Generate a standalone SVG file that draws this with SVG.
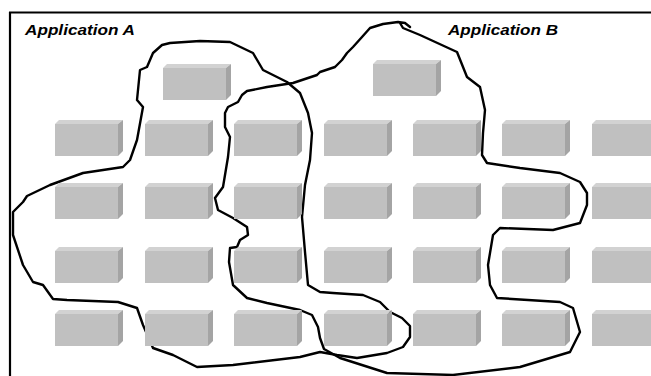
<svg xmlns="http://www.w3.org/2000/svg" width="651" height="376" viewBox="0 0 651 376">
<style>
.frame{stroke:#000;stroke-width:2.2;fill:none}
.loop{stroke:#000;stroke-width:2.4;fill:none;stroke-linejoin:round;stroke-linecap:round}
.front{fill:#c0c0c0}
.top{fill:#d2d2d2}
.side{fill:#a4a4a4}
.lbl{font-family:"Liberation Sans",Arial,sans-serif;font-weight:bold;font-style:italic;font-size:14px;fill:#000}
</style>
<defs>
<g id="box">
<polygon class="top" points="0,4 4,0 68,0 63,4"/>
<polygon class="side" points="63,4 68,0 68,31 63,36"/>
<rect class="front" x="0" y="4" width="63" height="32"/>
</g>
</defs>
<rect width="651" height="376" fill="#fff"/>
<g id="frame">
<line class="frame" x1="9" y1="12.5" x2="651" y2="12.5"/>
<line class="frame" x1="10" y1="12" x2="10" y2="376"/>
</g>
<g id="connectors">
<path id="loopA" class="loop" d="M170,43 L200,41 L230,42 L253,53 L263,70 L287,82 L300,93 L308,113 L312,133 L310,160 L305,185 L302,217 L305,252 L308,285 L320,292 L333,293 L363,295 L380,302 L390,312 L402,318 L410,326 L410,337 L403,347 L387,353 L357,358 L337,355 L320,352 L300,357 L233,365 L197,367 L173,355 L153,348 L143,325 L137,308 L118,302 L67,300 L53,299 L43,285 L33,282 L23,265 L13,235 L13,212 L23,202 L27,196 L50,185 L83,173 L123,167 L130,160 L137,140 L143,107 L137,100 L140,70 L147,67 L153,53 L162,45 Z"/>
<path id="loopB" class="loop" d="M410,27 L405,23 L398,22 L383,24 L370,28 L362,37 L353,47 L347,53 L342,60 L335,67 L320,72 L317,75 L293,83 L267,87 L247,91 L242,95 L238,102 L228,107 L225,113 L225,127 L230,137 L228,157 L223,187 L215,198 L218,210 L233,218 L247,227 L248,235 L240,240 L237,247 L230,248 L229,262 L233,285 L247,298 L267,303 L300,310 L312,315 L318,327 L320,338 L324,349 L340,358 L387,373 L453,375 L520,367 L570,352 L580,332 L573,308 L560,302 L497,298 L490,285 L488,265 L493,235 L500,228 L553,230 L580,223 L587,205 L587,193 L580,182 L560,173 L520,168 L487,163 L482,155 L483,133 L485,110 L480,87 L467,77 L457,52 L420,35 L403,28 L400,23"/>
</g>
<g id="label-a"><text class="lbl" x="25" y="35" textLength="110" lengthAdjust="spacingAndGlyphs">Application A</text></g>
<g id="label-b"><text class="lbl" x="448" y="35" textLength="110" lengthAdjust="spacingAndGlyphs">Application B</text></g>
<g id="app-a"><use href="#box" x="163" y="64"/></g>
<g id="app-b"><use href="#box" x="373" y="60"/></g>
<g id="r1c1"><use href="#box" x="55" y="120"/></g>
<g id="r1c2"><use href="#box" x="145" y="120"/></g>
<g id="r1c3"><use href="#box" x="234" y="120"/></g>
<g id="r1c4"><use href="#box" x="324" y="120"/></g>
<g id="r1c5"><use href="#box" x="413" y="120"/></g>
<g id="r1c6"><use href="#box" x="502" y="120"/></g>
<g id="r1c7"><use href="#box" x="592" y="120"/></g>
<g id="r2c1"><use href="#box" x="55" y="183"/></g>
<g id="r2c2"><use href="#box" x="145" y="183"/></g>
<g id="r2c3"><use href="#box" x="234" y="183"/></g>
<g id="r2c4"><use href="#box" x="324" y="183"/></g>
<g id="r2c5"><use href="#box" x="413" y="183"/></g>
<g id="r2c6"><use href="#box" x="502" y="183"/></g>
<g id="r2c7"><use href="#box" x="592" y="183"/></g>
<g id="r3c1"><use href="#box" x="55" y="247"/></g>
<g id="r3c2"><use href="#box" x="145" y="247"/></g>
<g id="r3c3"><use href="#box" x="234" y="247"/></g>
<g id="r3c4"><use href="#box" x="324" y="247"/></g>
<g id="r3c5"><use href="#box" x="413" y="247"/></g>
<g id="r3c6"><use href="#box" x="502" y="247"/></g>
<g id="r3c7"><use href="#box" x="592" y="247"/></g>
<g id="r4c1"><use href="#box" x="55" y="310"/></g>
<g id="r4c2"><use href="#box" x="145" y="310"/></g>
<g id="r4c3"><use href="#box" x="234" y="310"/></g>
<g id="r4c4"><use href="#box" x="324" y="310"/></g>
<g id="r4c5"><use href="#box" x="413" y="310"/></g>
<g id="r4c6"><use href="#box" x="502" y="310"/></g>
<g id="r4c7"><use href="#box" x="592" y="310"/></g>
</svg>
